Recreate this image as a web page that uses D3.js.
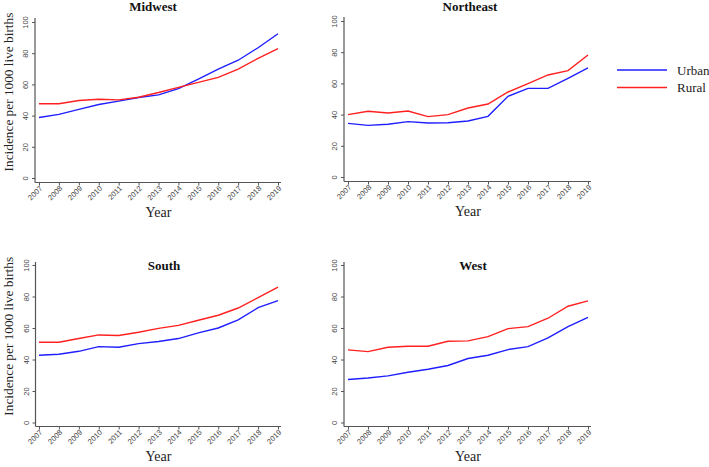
<!DOCTYPE html>
<html><head><meta charset="utf-8">
<script src="https://cdn.jsdelivr.net/npm/d3@7"></script>
<style>body{margin:0;background:#fff;} svg{display:block;}</style>
</head><body>
<svg id="chart" width="709" height="467"></svg>
<script>
const years = [2007,2008,2009,2010,2011,2012,2013,2014,2015,2016,2017,2018,2019];
const yTicks = [0,20,40,60,80,100];
const regions = ["Midwest","Northeast","South","West"];
const seriesNames = ["Urban","Rural"];
const midwestUrban = [38.8,40.8,44.0,47.1,49.3,51.6,53.3,57.3,63.4,69.8,75.5,83.5,92.5];
const midwestRural = [47.6,47.6,49.7,50.5,50.1,51.8,54.8,58.1,61.3,64.5,69.8,76.7,82.9];
const northeastUrban = [34.4,33.1,33.8,35.5,34.6,34.8,35.9,38.9,51.7,56.8,56.8,63.2,69.9];
const northeastRural = [40.0,42.1,41.0,42.3,38.7,40.0,44.2,46.8,54.5,59.8,65.4,68.2,78.2];
const southUrban = [42.7,43.3,45.2,48.2,47.8,50.1,51.4,53.3,56.9,60.0,65.1,72.9,77.4];
const southRural = [51.0,51.0,53.3,55.6,55.2,57.3,59.8,61.7,64.9,68.1,72.7,79.3,86.0];
const westUrban = [27.3,28.3,29.6,31.9,33.8,36.2,40.6,42.7,46.3,48.2,53.7,60.9,66.8];
const westRural = [46.1,45.0,47.8,48.4,48.4,51.6,51.8,54.5,59.6,60.9,66.2,73.8,77.2];

const dataByRegion = {
  Midwest: [midwestUrban, midwestRural],
  Northeast: [northeastUrban, northeastRural],
  South: [southUrban, southRural],
  West: [westUrban, westRural]
};
const colors = ["#1f1fff","#ff2020"];

// layout of each panel
const panels = {
  Midwest:   {ax:35,  x0:39,  x1:278, y0:178,   y1:22,  axY:182.5, top:18,  titleX:153, titleY:11,  titleIn:false, ylab:true},
  Northeast: {ax:344, x0:348, x1:588, y0:177,   y1:21,  axY:181.5, top:17,  titleX:470, titleY:11,  titleIn:false, ylab:false},
  South:     {ax:35.5,x0:39,  x1:278, y0:422.5, y1:265, axY:426.5, top:262, titleX:164, titleY:270, titleIn:true, ylab:true},
  West:      {ax:344, x0:348, x1:588, y0:422.5, y1:265, axY:426.5, top:262, titleX:473, titleY:270, titleIn:true, ylab:false}
};

const svg = d3.select("#chart");
const axisColor = "#555";

regions.forEach(name => {
  const p = panels[name];
  const x = d3.scaleLinear().domain([years[0], years[years.length-1]]).range([p.x0, p.x1]);
  const y = d3.scaleLinear().domain([0,100]).range([p.y0, p.y1]);
  const g = svg.append("g");

  // axis lines
  g.append("line").attr("x1",p.ax).attr("x2",p.ax).attr("y1",p.top).attr("y2",p.axY)
    .attr("stroke",axisColor).attr("stroke-width",1.2);
  g.append("line").attr("x1",p.ax).attr("x2",p.x1+3).attr("y1",p.axY).attr("y2",p.axY)
    .attr("stroke",axisColor).attr("stroke-width",1.2);

  // y ticks
  const ya = g.append("g").attr("transform",`translate(${p.ax},0)`)
    .call(d3.axisLeft(y).tickValues(yTicks).tickSize(3).tickPadding(0).tickFormat(d3.format("d")));
  ya.select(".domain").remove();
  ya.selectAll(".tick line").attr("stroke",axisColor);
  ya.selectAll(".tick text")
    .attr("x",null).attr("dy",null)
    .attr("transform","translate(-7,0) rotate(-90)")
    .attr("text-anchor","middle")
    .attr("font-family","Liberation Sans, Arial, sans-serif").attr("font-size",7.5).attr("fill","#444");

  // x ticks
  const xa = g.append("g").attr("transform",`translate(0,${p.axY})`)
    .call(d3.axisBottom(x).tickValues(years).tickSize(3).tickPadding(0).tickFormat(d3.format("d")));
  xa.select(".domain").remove();
  xa.selectAll(".tick line").attr("stroke",axisColor);
  xa.selectAll(".tick text")
    .attr("y",null).attr("dy",null)
    .attr("transform","translate(2,5) rotate(-45)")
    .attr("text-anchor","end").attr("dominant-baseline","middle")
    .attr("font-family","Liberation Sans, Arial, sans-serif").attr("font-size",7.5).attr("fill","#444");

  // lines
  const line = d3.line().x((d,i)=>x(years[i])).y(d=>y(d));
  dataByRegion[name].forEach((vals,k) => {
    g.append("path").datum(vals).attr("d",line)
      .attr("fill","none").attr("stroke",colors[k]).attr("stroke-width",1.4);
  });

  // title
  g.append("text").attr("x",p.titleX).attr("y",p.titleY).attr("text-anchor","middle")
    .attr("font-family","Liberation Serif, Times New Roman, serif").attr("font-weight","bold")
    .attr("font-size",13).attr("fill","#111").text(name);

  // x label
  g.append("text").attr("x",(p.x0+p.x1)/2).attr("y",p.axY+34).attr("text-anchor","middle")
    .attr("font-family","Liberation Serif, Times New Roman, serif")
    .attr("font-size",14).attr("fill","#222").text("Year");

  // y label
  if (p.ylab) {
    g.append("text").attr("transform",`translate(13,${(p.y0+p.top)/2 - 6}) rotate(-90)`)
      .attr("text-anchor","middle")
      .attr("font-family","Liberation Serif, Times New Roman, serif")
      .attr("font-size",13.3).attr("fill","#222").text("Incidence per 1000 live births");
  }
});

// legend
const lg = svg.append("g");
seriesNames.forEach((s,k) => {
  const ly = 70 + k*17.5;
  lg.append("line").attr("x1",617).attr("x2",667).attr("y1",ly).attr("y2",ly)
    .attr("stroke",colors[k]).attr("stroke-width",1.4);
  lg.append("text").attr("x",677).attr("y",ly+4.5)
    .attr("font-family","Liberation Serif, Times New Roman, serif")
    .attr("font-size",13).attr("fill","#222").text(s);
});
</script>
</body></html>
